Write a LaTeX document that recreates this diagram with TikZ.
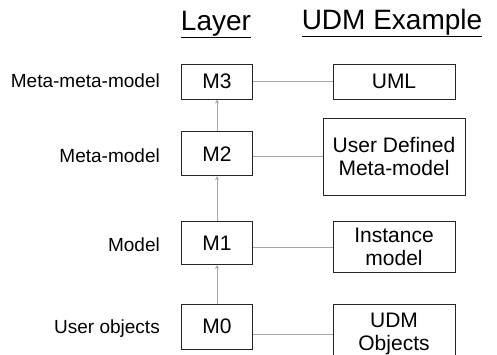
\documentclass[tikz,border=0pt]{standalone}
\usepackage{fontspec}
\setmainfont{Liberation Sans}
\usetikzlibrary{arrows.meta, positioning}

\begin{document}
\begin{tikzpicture}[
    x=1pt, y=-1pt,
    layerbox/.style={draw=black!85, line width=1pt, minimum width=71pt, align=center, font=\fontsize{21}{23}\selectfont},
    udmbox/.style={draw=black!85, line width=1pt, minimum width=122pt, align=center, font=\fontsize{21}{23}\selectfont},
    lvl/.style={anchor=base east, inner sep=0pt, font=\fontsize{19}{22}\selectfont},
    head/.style={anchor=base, inner sep=0pt, font=\fontsize{28}{32}\selectfont},
    link/.style={draw=black!35, line width=1pt},
    >={Stealth[length=4pt, width=4pt]}
]
    \useasboundingbox (0,0) rectangle (497,354);
    % headings
    \node[head] (hlayer) at (216,30) {\underline{Layer}};
    \node[head] (hudm) at (392,29) {\underline{UDM Example}};
    % layers
    \node[layerbox, minimum height=35pt] (m3) at (217,81.5) {M3};
    \node[layerbox, minimum height=44pt] (m2) at (217,153.7) {M2};
    \node[layerbox, minimum height=43pt] (m1) at (217,243) {M1};
    \node[layerbox, minimum height=45pt] (m0) at (217,326.7) {M0};
    % level names
    \node[lvl] (l3) at (160,87) {Meta-meta-model};
    \node[lvl] (l2) at (160,162) {Meta-model};
    \node[lvl] (l1) at (160,251) {Model};
    \node[lvl] (l0) at (160,333) {User objects};
    % UDM examples
    \node[udmbox, minimum height=35pt] (uml) at (394,81.5) {UML};
    \node[udmbox, minimum width=142pt, minimum height=77pt] (udmdef) at (394,156.7) {User Defined\\Meta-model};
    \node[udmbox, minimum height=51pt] (inst) at (394,247) {Instance\\model};
    \node[udmbox, minimum height=60pt] (udmobj) at (394,334) {UDM\\Objects};
    % connectors
    \draw[link, ->] (m0) -- (m1);
    \draw[link, ->] (m1) -- (m2);
    \draw[link, ->] (m2) -- (m3);
    \draw[link] (m3) -- (uml);
    \draw[link] (udmdef.west -| m2.east) -- (udmdef.west);
    \draw[link] (inst.west -| m1.east) -- (inst.west);
    \draw[link] (udmobj.west -| m0.east) -- (udmobj.west);
\end{tikzpicture}
\end{document}
